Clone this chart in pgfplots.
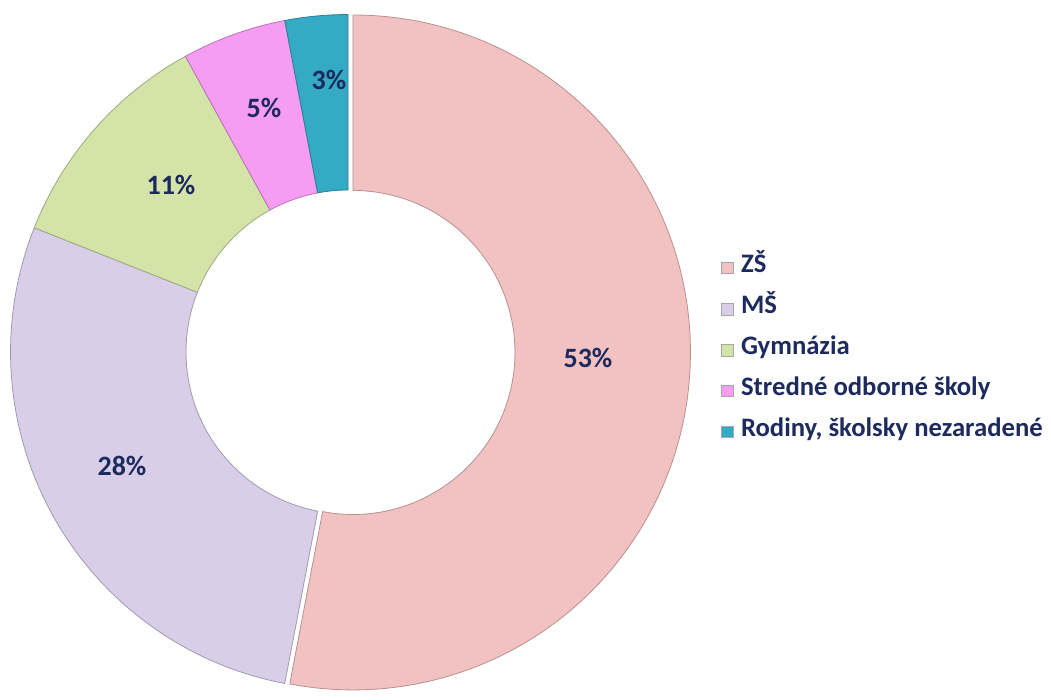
\documentclass[border=0pt]{standalone}
\usepackage{pgfplots}
\pgfplotsset{compat=1.18}
\usetikzlibrary{calc}
\usepackage{fontspec}
\setmainfont{Carlito}
\definecolor{cZS}{RGB}{242,194,194}
\definecolor{cMS}{RGB}{216,206,232}
\definecolor{cGY}{RGB}{212,227,168}
\definecolor{cSO}{RGB}{246,156,243}
\definecolor{cRO}{RGB}{52,170,196}
\definecolor{txt}{RGB}{28,42,94}
% #1 start angle, #2 value in percent, #3 colour, #4 explode distance
\newcommand{\slice}[4]{%
  \fill[#3, draw=#3!75!black, line width=0.6pt, line join=round]
    ($(axis cs:348,334)+({#1-1.8*#2}:#4)+({#1}:121.5pt)$)
    -- ++({#1}:131.6pt)
    arc[start angle={#1}, delta angle={-3.6*#2}, radius=253.1pt]
    -- ++({#1-3.6*#2+180}:131.6pt)
    arc[start angle={#1-3.6*#2}, delta angle={3.6*#2}, radius=121.5pt]
    -- cycle;}
\begin{document}
\begin{tikzpicture}
\begin{axis}[
  x=0.75pt, y=0.75pt, xmin=0, xmax=1051, ymin=0, ymax=686,
  hide axis, clip=false,
  legend cell align=left,
  legend style={draw=none, fill=none, at={(axis cs:717,436)}, anchor=north west,
    font=\bfseries\fontsize{20}{24}\selectfont, text=txt,
    nodes={inner xsep=2pt, inner ysep=0pt, text height=15pt, text depth=15.75pt}},
  legend image code/.code={\fill[#1, draw=black!35, line width=0.3pt] (0pt,-0.2pt) rectangle (8.5pt,8.3pt); \path (12.5pt,0pt);},
]
\path (axis cs:0,0) rectangle (axis cs:1051,686);
\slice{90}{53}{cZS}{3.75pt}
\slice{90-3.6*53}{28}{cMS}{0pt}
\slice{90-3.6*81}{11}{cGY}{0pt}
\slice{90-3.6*92}{5}{cSO}{0pt}
\slice{90-3.6*97}{3}{cRO}{0pt}
\begin{scope}[font=\bfseries\fontsize{21}{24}\selectfont, text=txt]
\node at (axis cs:588,328) {53\%};
\node at (axis cs:122,220) {28\%};
\node at (axis cs:171,501) {11\%};
\node at (axis cs:264,578) {5\%};
\node at (axis cs:329,606) {3\%};
\end{scope}
\addlegendimage{fill=cZS}\addlegendentry{ZŠ}
\addlegendimage{fill=cMS}\addlegendentry{MŠ}
\addlegendimage{fill=cGY}\addlegendentry{Gymnázia}
\addlegendimage{fill=cSO}\addlegendentry{Stredné odborné školy}
\addlegendimage{fill=cRO}\addlegendentry{Rodiny, školsky nezaradené}
\end{axis}
\end{tikzpicture}
\end{document}
